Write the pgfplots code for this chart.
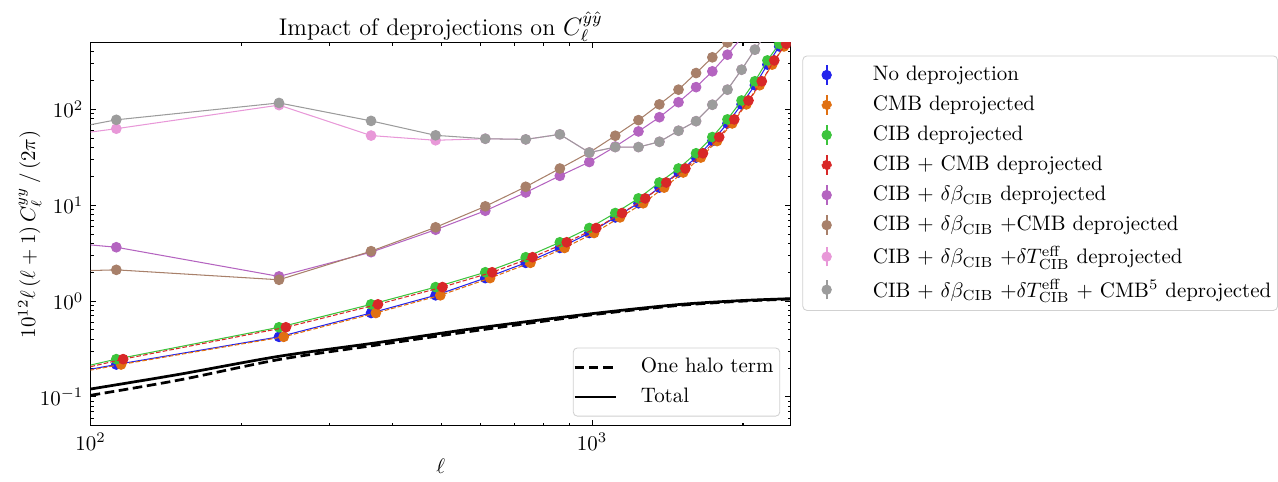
\documentclass[border=0pt]{standalone}
\usepackage{pgfplots}
\pgfplotsset{compat=1.18}
\usepackage{pgfplotstable}

\definecolor{cblue}{HTML}{2424EC}
\definecolor{corange}{HTML}{E07012}
\definecolor{cgreen}{HTML}{3CC43C}
\definecolor{cred}{HTML}{D82828}
\definecolor{cpurple}{HTML}{B464C0}
\definecolor{cbrown}{HTML}{A8806A}
\definecolor{cpink}{HTML}{E898D8}
\definecolor{cgray}{HTML}{9C9C9C}

% bin centres l; lo, lr = slightly shifted positions of the orange and red points
\pgfplotstableread{
l      lo      lr      nodep  cib    beta   betacmb  betaT  betaTcmb
60     61.3    61.9    0.119  0.116  4.90   1.94     41.0   41.7
112.5  115.0   116.1   0.218  0.248  3.65   2.12     63     78
237.5  242.7   245.1   0.424  0.533  1.81   1.67     111    117
362.5  370.5   374.1   0.752  0.925  3.24   3.32     53.4   76
487.5  498.2   503.1   1.15   1.40   5.56   5.89     47.7   53.7
612.5  626.0   632.1   1.74   2.00   8.77   9.75     49.5   49.5
737.5  753.7   761.1   2.51   2.87   13.6   15.6     48.7   48.7
862.5  881.5   890.1   3.59   4.11   20.3   24.2     55     55
987.5  1009.2  1019.1  5.14   5.79   28.3   35.5     35.5   35.5
1112.5 1137.0  1148.1  7.48   8.30   41     53.2     40.5   40.5
1237.5 1264.7  1277.1  10.5   11.8   59     77.4     40.5   40.5
1362.5 1392.5  1406.1  15.3   17.3   83     113      46     46
1487.5 1520.2  1535.1  22.0   24.2   119    161      60     60
1612.5 1648.0  1664.1  31.5   34.9   171    240      75.5   75.5
1737.5 1775.7  1793.1  46.8   51.5   250    350      112    112
1862.5 1903.5  1922.1  71.5   78.8   373    500      161    161
1987.5 2031.2  2051.1  113    124    560    720      260    260
2112.5 2159.0  2180.1  179    197    840    1050     421    421
2237.5 2286.7  2309.1  294    325    1250   1500     650    650
2362.5 2414.5  2438.1  455    485    1800   2100     1000   1000
2487.5 2542.2  2567.1  690    730    2600   3000     1500   1500
}\deproj

\pgfplotstableread{
l     onehalo  total
100   0.104    0.121
150   0.150    0.172
238   0.246    0.266
375   0.350    0.370
593   0.496    0.525
1000  0.720    0.740
1485  0.900    0.920
2000  1.000    1.015
2490  1.050    1.060
}\halo

\pgfplotsset{
  errleg/.style={legend image code/.code={
    \path[draw=none, fill=none] (0pt,-4.6pt) rectangle (20pt,4.6pt);
    \draw[solid, line width=1.1pt, #1] (11.4pt,-4.6pt) -- (11.4pt,4.6pt);
    \fill[#1] (11.4pt,0pt) circle (2.2pt);}},
  lineleg/.style={legend image code/.code={
    \path[draw=none, fill=none] (0pt,-4.6pt) rectangle (20pt,4.6pt);
    \draw[black, line width=1.3pt, #1] (0pt,0pt) -- (20pt,0pt);}},
  dep/.style={color=#1, line width=0.5pt, mark=*, mark size=2.3pt,
    mark options={solid, draw=none, fill=#1}, errleg=#1},
  legbox/.style={draw=black!18, rounded corners=2pt, fill=white,
    inner xsep=0pt, inner ysep=2pt, column sep=8pt,
    nodes={inner xsep=3pt, inner ysep=2.9pt}, font=\normalsize},
}

\begin{document}
\begin{tikzpicture}
\begin{axis}[scale only axis, width=334.4pt, height=183.1pt,
  xmode=log, ymode=log,
  xmin=100, xmax=2490, ymin=0.05, ymax=500,
  hide axis,
  legend style={legbox, at={(0.985,0.024)}, anchor=south east},
  legend cell align=left]
\addplot[black, line width=1.3pt, dash pattern=on 4.6pt off 2.2pt, smooth,
  lineleg={dash pattern=on 4.6pt off 2.2pt}]
  table[x=l, y=onehalo] {\halo};
\addlegendentry{One halo term}
\addplot[black, line width=1.3pt, smooth, lineleg={solid}] table[x=l, y=total] {\halo};
\addlegendentry{Total}
\end{axis}

\begin{axis}[scale only axis, width=334.4pt, height=183.1pt,
  xmode=log, ymode=log,
  xmin=100, xmax=2490, ymin=0.05, ymax=500,
  xtick={100,1000}, minor xtick={200,300,400,500,600,700,800,900,2000},
  ytick={0.1,1,10,100},
  minor ytick={0.05,0.06,0.07,0.08,0.09,0.2,0.3,0.4,0.5,0.6,0.7,0.8,0.9,
    2,3,4,5,6,7,8,9,20,30,40,50,60,70,80,90,200,300,400},
  major tick length=2.6pt, minor tick length=1.5pt,
  tick style={black, line width=0.5pt},
  clip marker paths=true,
  name=main,
  title={Impact of deprojections on $C_\ell^{\hat{y}\hat{y}}$},
  title style={font=\fontsize{11.5}{13}\selectfont, yshift=-9pt},
  xlabel={$\ell$},
  xlabel style={at={(axis description cs:0.5,-0.106)}, anchor=center},
  ylabel={$10^{12}\ell\,(\ell+1)\,C_\ell^{yy}\,/\,(2\pi)$},
  ylabel style={at={(axis description cs:-0.087,0.5)}, anchor=center},
  legend style={legbox, column sep=10.5pt, at={(1.0167,0.966)}, anchor=north west},
  legend cell align=left]
\addplot[dep=cblue] table[x=l, y=nodep] {\deproj};
\addlegendentry{No deprojection}
\addplot[dep=corange, dash pattern=on 2.2pt off 1pt] table[x=lo, y=nodep] {\deproj};
\addlegendentry{CMB deprojected}
\addplot[dep=cgreen] table[x=l, y=cib] {\deproj};
\addlegendentry{CIB deprojected}
\addplot[dep=cred, dash pattern=on 2.2pt off 1pt] table[x=lr, y=cib] {\deproj};
\addlegendentry{CIB + CMB deprojected}
\addplot[dep=cpurple] table[x=l, y=beta] {\deproj};
\addlegendentry{CIB + $\delta\beta_{\mathrm{CIB}}$ deprojected}
\addplot[dep=cbrown] table[x=l, y=betacmb] {\deproj};
\addlegendentry{CIB + $\delta\beta_{\mathrm{CIB}}$ +CMB deprojected}
\addplot[dep=cpink] table[x=l, y=betaT] {\deproj};
\addlegendentry{CIB + $\delta\beta_{\mathrm{CIB}}$ +$\delta T_{\mathrm{CIB}}^{\mathrm{eff}}$ deprojected}
\addplot[dep=cgray] table[x=l, y=betaTcmb] {\deproj};
\addlegendentry{CIB + $\delta\beta_{\mathrm{CIB}}$ +$\delta T_{\mathrm{CIB}}^{\mathrm{eff}}$ + CMB$^5$ deprojected}
\end{axis}
\path ([xshift=-43.3pt,yshift=-26.5pt]main.south west)
  rectangle ([xshift=230.8pt,yshift=20.3pt]main.north east);
\end{tikzpicture}
\end{document}
